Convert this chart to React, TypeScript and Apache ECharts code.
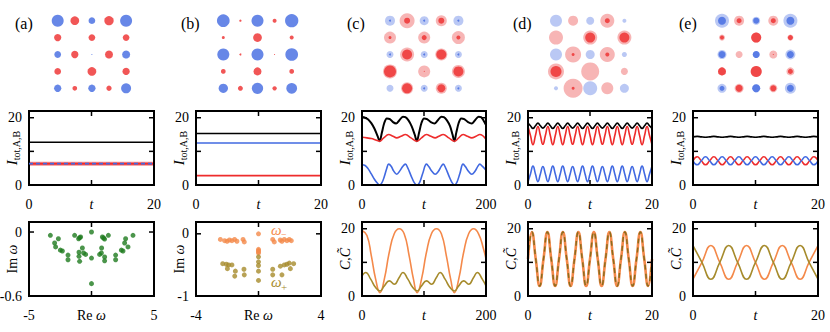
import React, { useEffect, useRef } from 'react';
import * as echarts from 'echarts';

const SERIF = '"Liberation Serif", "DejaVu Serif", serif';
const BLUE = '#4169E1';
const RED = '#EE2C2C';
const BLUE_L = '#A9BAF1';
const RED_L = '#F5A3A3';
const GREEN = '#1E7B1E';
const ORANGE = '#F4894A';
const OLIVE = '#A68B2C';

// ---- lattice (top row) ----
const SITE_ROW = [0, 0, 0, 0, 0, 1, 1, 1, 2, 2, 2, 2, 2, 3, 3, 3, 4, 4, 4, 4, 4];
const SITE_COL = [0, 1, 2, 3, 4, 0, 2, 4, 0, 1, 2, 3, 4, 0, 2, 4, 0, 1, 2, 3, 4];
const PANEL_LABELS = ['(a)', '(b)', '(c)', '(d)', '(e)'];

const SIZE_A = [12, 8.7, 6.7, 9.3, 12, 7.3, 6.7, 6.7, 6.7, 7.3, 1, 8, 8, 6.7, 8.7, 7.3, 7.3, 4.7, 7.3, 5.3, 10];
const SIZE_B = [12.7, 2.3, 12, 4, 13.3, 3, 8.7, 4, 12, 2, 12, 1, 12.7, 4.7, 8, 4.7, 9.3, 5, 11.3, 4.3, 10.7];
const OUTER_C = [10, 15, 9, 11, 10, 12, 12, 13, 7, 14, 7, 12, 7, 14, 12, 13, 7, 12, 7, 11, 7];
const INNER_C = [2, 6, 2, 6, 2, 3, 5, 4, 2, 10, 2, 10, 2, 12, 1, 10, 0, 10, 2, 8, 2];
const OUTER_D = [12, 10, 8, 14, 4, 14, 14, 14, 12, 16, 9, 15, 5, 16, 18, 7, 4, 19, 14, 12, 9];
const INNER_D = [0, 0, 0, 5, 0, 0, 10, 10, 0, 3, 0, 4, 0, 11, 0, 0, 0, 3, 0, 0, 0];
const OUTER_E = [14, 10, 8, 10, 14, 6, 10, 6, 9, 7, 7, 8, 10, 8, 11, 8, 9, 9, 8, 8, 11];
const INNER_E = [8, 5, 6, 5, 8, 4, 10, 5, 7, 0, 7, 1, 7, 8, 11, 5, 5, 7, 8, 6, 7];

// ---- middle row: intensities ----
const T_CONST = [0, 20];
const A_TOT = [12.7, 12.7];
const A_IA = [6.35, 6.35];
const A_IB = [6.35, 6.35];
const B_TOT = [15.3, 15.3];
const B_IA = [12.5, 12.5];
const B_IB = [2.8, 2.8];

const C_TOT: [number, number][] = [
  [0, 20.2], [5, 20.0], [10, 19.5], [15, 18.4], [20, 16.8], [25, 14.6], [28.5, 13.0], [32, 15.5], [36, 18.5], [40, 19.8],
  [45, 19.6], [50, 18.7], [55, 18.3], [60, 19.2], [66, 20.3], [70, 20.2], [75, 19.2], [80, 17.5], [85, 15.0], [88.5, 13.0],
  [92, 15.5], [96, 18.5], [100, 19.8], [105, 19.6], [111, 18.7], [117, 18.3], [122, 19.2], [128, 20.3], [132, 20.2],
  [137, 19.2], [142, 17.5], [146, 15.0], [149, 13.0], [152, 15.5], [156, 18.5], [160, 19.8], [165, 19.6], [171, 18.7],
  [177, 18.3], [182, 19.2], [188, 20.3], [192, 20.2], [196, 19.2], [200, 17.8],
];
const C_IA: [number, number][] = [
  [0, 6.0], [5, 5.8], [10, 4.8], [15, 3.3], [20, 1.7], [25, 0.5], [28.5, 0.0], [32, 0.6], [36, 2.5], [40, 5.0], [43, 6.2],
  [47, 5.6], [51, 4.2], [56, 3.2], [61, 4.2], [66, 5.6], [70, 6.2], [74, 5.0], [79, 2.8], [84, 0.8], [88.5, 0.0], [93, 0.8],
  [98, 3.5], [104, 6.2], [108, 5.4], [113, 4.0], [118, 3.2], [123, 4.0], [128, 5.6], [131, 6.2], [135, 5.0], [140, 2.8],
  [145, 0.8], [149, 0.0], [153, 0.8], [158, 3.5], [163, 6.2], [167, 5.4], [172, 4.0], [177, 3.2], [182, 4.0], [187, 5.6],
  [190, 6.2], [194, 5.6], [200, 4.4],
];
const C_IB: [number, number][] = [
  [0, 14.2], [8, 14.0], [15, 13.8], [22, 13.4], [28.5, 13.0], [35, 14.0], [43, 15.0], [50, 14.5], [56, 14.0], [63, 14.5],
  [70, 15.0], [79, 14.0], [88.5, 13.0], [96, 14.0], [104, 15.0], [111, 14.5], [118, 14.0], [124, 14.5], [131, 15.0],
  [140, 14.0], [149, 13.0], [156, 14.0], [163, 15.0], [170, 14.5], [177, 14.0], [184, 14.5], [190, 15.0], [200, 13.6],
];

const D_STEP = 0.4;
const D_IA = [1.0, 3.3, 5.6, 3.3, 1.0, 3.3, 5.5, 3.3, 1.0, 3.3, 5.6, 3.3, 1.0, 3.3, 5.6, 3.3, 1.0, 3.3, 5.5, 3.3, 1.0, 3.3, 5.6, 3.3, 1.0, 3.3, 5.6, 3.3, 1.0, 3.3, 5.5, 3.3, 1.0, 3.3, 5.6, 3.3, 1.0, 3.3, 5.6, 3.3, 1.0, 3.3, 5.5, 3.3, 1.0, 3.3, 5.6, 3.3, 1.0, 3.3, 5.6];
const D_IB = [17.4, 14.7, 12.0, 14.7, 17.4, 14.7, 12.1, 14.7, 17.4, 14.7, 12.0, 14.7, 17.4, 14.7, 12.0, 14.7, 17.4, 14.7, 12.1, 14.7, 17.4, 14.7, 12.0, 14.7, 17.4, 14.7, 12.0, 14.7, 17.4, 14.7, 12.1, 14.7, 17.4, 14.7, 12.0, 14.7, 17.4, 14.7, 12.0, 14.7, 17.4, 14.7, 12.1, 14.7, 17.4, 14.7, 12.0, 14.7, 17.4, 14.7, 12.0];
const D_TOT = [18.4, 17.6, 16.8, 17.6, 18.4, 17.6, 16.9, 17.6, 18.4, 17.6, 16.8, 17.6, 18.4, 17.6, 16.8, 17.6, 18.4, 17.6, 16.9, 17.6, 18.4, 17.6, 16.8, 17.6, 18.4, 17.6, 16.8, 17.6, 18.4, 17.6, 16.9, 17.6, 18.4, 17.6, 16.8, 17.6, 18.4, 17.6, 16.8, 17.6, 18.4, 17.6, 16.9, 17.6, 18.4, 17.6, 16.8, 17.6, 18.4, 17.6, 16.8];

const E_STEP = 20 / 30;
const E_TOT = [14.3, 14.45, 14.3, 14.2, 14.3, 14.45, 14.3, 14.2, 14.3, 14.45, 14.3, 14.2, 14.3, 14.45, 14.3, 14.2, 14.3, 14.45, 14.3, 14.2, 14.3, 14.45, 14.3, 14.2, 14.3, 14.45, 14.3, 14.2, 14.3, 14.45, 14.3];
const E_IA = [7.2, 6.0, 7.2, 8.4, 7.2, 6.0, 7.2, 8.4, 7.2, 6.0, 7.2, 8.4, 7.2, 6.0, 7.2, 8.4, 7.2, 6.0, 7.2, 8.4, 7.2, 6.0, 7.2, 8.4, 7.2, 6.0, 7.2, 8.4, 7.2, 6.0, 7.2];
const E_IB = [7.2, 8.4, 7.2, 6.0, 7.2, 8.4, 7.2, 6.0, 7.2, 8.4, 7.2, 6.0, 7.2, 8.4, 7.2, 6.0, 7.2, 8.4, 7.2, 6.0, 7.2, 8.4, 7.2, 6.0, 7.2, 8.4, 7.2, 6.0, 7.2, 8.4, 7.2];

// ---- bottom row ----
const A_OMEGA: [number, number][] = [
  [-3.29, -0.031], [-2.95, -0.103], [-2.87, -0.14], [-2.65, -0.063], [-2.49, -0.17], [-2.33, -0.178], [-1.88, -0.216],
  [-1.88, -0.26], [-1.35, -0.031], [-1.03, -0.063], [-0.95, -0.053], [-0.87, -0.047], [-0.73, -0.15], [-1.0, -0.19],
  [-1.0, -0.228], [-0.95, -0.275], [-0.63, -0.197], [-0.47, -0.21],
  [0, 0], [0, -0.244], [0, -0.484],
  [0.65, -0.21], [0.79, -0.197], [0.81, -0.15], [0.87, -0.047], [0.97, -0.056], [1.05, -0.066], [1.05, -0.234],
  [1.05, -0.27], [1.35, -0.031], [1.93, -0.216], [1.93, -0.26], [2.39, -0.17], [2.52, -0.178], [2.65, -0.103],
  [2.73, -0.063], [2.92, -0.14], [3.32, -0.031],
];
const B_OMEGA_MINUS: [number, number][] = [
  [-2.44, -0.09], [-2.17, -0.11], [-2.01, -0.12], [-1.86, -0.1], [-1.7, -0.11], [-1.53, -0.09], [-1.38, -0.12],
  [-0.99, -0.09], [-0.91, -0.13],
  [0, 0], [0, -0.25], [0, -0.27], [0, -0.29], [0, -0.31],
  [0.91, -0.09], [1.01, -0.13], [1.39, -0.1], [1.5, -0.12], [1.65, -0.09], [1.82, -0.11], [1.97, -0.09], [2.1, -0.11],
];
const B_OMEGA_PLUS: [number, number][] = [
  [-2.29, -0.48], [-2.06, -0.49], [-1.91, -0.5], [-1.7, -0.5], [-1.99, -0.56], [-1.48, -0.6], [-0.93, -0.57],
  [-0.91, -0.66], [-1.52, -0.68],
  [0, -0.37], [0, -0.45], [0, -0.51], [0, -0.6], [0, -0.75],
  [0.91, -0.57], [0.91, -0.66], [1.4, -0.52], [1.5, -0.66], [1.65, -0.5], [1.82, -0.49], [1.97, -0.47], [2.04, -0.56],
  [2.25, -0.48],
];

const C_C: [number, number][] = [
  [0, 19.5], [8, 18], [15, 12], [22, 5], [29, 1], [36, 5], [44, 13], [52, 18.5], [60, 20], [68, 18.5], [76, 12], [83, 5],
  [89, 1], [96, 5], [104, 13], [112, 18.5], [120, 20], [128, 18.5], [136, 12], [143, 5], [149, 1], [156, 5], [164, 13],
  [172, 18.5], [180, 20], [188, 18.5], [196, 14], [200, 11],
];
const C_CT: [number, number][] = [
  [0, 6], [6, 7], [14, 5], [22, 2.5], [29, 1.5], [36, 3], [44, 4.5], [52, 3.5], [60, 5.5], [66, 7], [74, 5], [82, 2.5],
  [89, 1.5], [96, 3], [104, 4.5], [112, 3.5], [120, 5.5], [126, 7], [134, 5], [142, 2.5], [149, 1.5], [156, 3], [164, 4.5],
  [172, 3.5], [180, 5.5], [186, 7], [194, 5], [200, 3],
];
const D_STEP2 = 0.625;
const D_C = [11, 19, 11, 3, 11, 19, 11, 3, 11, 19, 11, 3, 11, 19, 11, 3, 11, 19, 11, 3, 11, 19, 11, 3, 11, 19, 11, 3, 11, 19, 11, 3, 11];
const D_CT = [11, 19, 11, 3, 11, 19, 11, 3, 11, 19, 11, 3, 11, 19, 11, 3, 11, 19, 11, 3, 11, 19, 11, 3, 11, 19, 11, 3, 11, 19, 11, 3, 11];
const E_STEP2 = 20 / 14;
const E_C = [5, 10, 15, 10, 5, 10, 15, 10, 5, 10, 15, 10, 5, 10, 15];
const E_CT = [15, 10, 5, 10, 15, 10, 5, 10, 15, 10, 5, 10, 15, 10, 5];

// ---- layout ----
const COL_LEFT = [29, 196, 362, 528, 693];
const COL_W = [125, 125, 124, 124, 125];
const TOP_X0 = [57.7, 223.3, 390, 556, 722];
const LABEL_X = [15, 181, 347, 513, 679];
const TICK_PX = 5;

type Frame = { xi: number; yi: number; xs: any; ys: any; xName: string; yName: string; rect: number[] };

function ticksOf(s: any) {
  const out: number[] = [];
  for (let k = 0; k < 100; k++) {
    const v = Math.round((s.min + k * s.interval) * 1e6) / 1e6;
    if (v > s.max + 1e-9) break;
    if (v > s.min + 1e-9 && v < s.max - 1e-9) out.push(v);
  }
  return out;
}

function buildOption() {
  const grid: any[] = [];
  const xAxis: any[] = [];
  const yAxis: any[] = [];
  const series: any[] = [];
  const frameSeries: any[] = [];
  const graphic: any[] = [];
  const frames: Frame[] = [];

  const fmt = (labels: Record<string, string>) => (v: number) => {
    const k = String(Math.round(v * 1000) / 1000);
    return labels[k] ?? '';
  };

  const lab = { fontFamily: SERIF, fontSize: 14, color: '#000' };

  function framed(rect: number[], xs: any, ys: any, xName: string, yName: string) {
    const gi = grid.length;
    grid.push({ left: rect[0], top: rect[1], width: rect[2], height: rect[3], containLabel: false, outerBoundsMode: 'none' });
    const mkCommon = () => ({
      gridIndex: gi, type: 'value',
      splitLine: { show: false },
      axisLine: { show: false },
      axisTick: { show: false },
      nameMoveOverlap: false,
    });
    const xi = xAxis.length;
    xAxis.push({
      ...mkCommon(), position: 'bottom', min: xs.min, max: xs.max, interval: xs.interval,
      axisLabel: { ...lab, margin: 12, formatter: fmt(xs.labels), hideOverlap: false },
    });
    const yi = yAxis.length;
    yAxis.push({
      ...mkCommon(), position: 'left', min: ys.min, max: ys.max, interval: ys.interval,
      axisLabel: { ...lab, margin: 7, formatter: fmt(ys.labels), hideOverlap: false },
    });
    const f = { xi, yi, xs, ys, xName, yName, rect };
    frames.push(f);
    const xt = ticksOf(xs);
    const yt = ticksOf(ys);
    frameSeries.push({
      type: 'custom', xAxisIndex: xi, yAxisIndex: yi, silent: true, clip: false, z: 4,
      data: [[xs.min, ys.min, xs.max, ys.max]],
      encode: { x: [0, 2], y: [1, 3] },
      renderItem: (params: any, api: any) => {
        const p0 = api.coord([xs.min, ys.min]);
        const p1 = api.coord([xs.max, ys.max]);
        const L = p0[0];
        const B = p0[1];
        const R = p1[0];
        const T = p1[1];
        const st = { stroke: '#000', lineWidth: 1.5, fill: null };
        const children: any[] = [
          { type: 'rect', shape: { x: L, y: T, width: R - L, height: B - T }, style: { stroke: '#000', lineWidth: 2, fill: 'rgba(0,0,0,0)' } },
        ];
        for (const v of xt) {
          const px = api.coord([v, ys.min])[0];
          children.push({ type: 'line', shape: { x1: px, y1: B, x2: px, y2: B - TICK_PX }, style: st });
          children.push({ type: 'line', shape: { x1: px, y1: T, x2: px, y2: T + TICK_PX }, style: st });
        }
        for (const v of yt) {
          const py = api.coord([xs.min, v])[1];
          children.push({ type: 'line', shape: { x1: L, y1: py, x2: L + TICK_PX, y2: py }, style: st });
          children.push({ type: 'line', shape: { x1: R, y1: py, x2: R - TICK_PX, y2: py }, style: st });
        }
        return { type: 'group', children };
      },
    });
    return { xi, yi };
  }

  const lineSeries = (ax: any, data: any[], color: string, width: number, extra: any = {}) => ({
    type: 'line', xAxisIndex: ax.xi, yAxisIndex: ax.yi, data, showSymbol: false, symbol: 'none',
    lineStyle: { color, width, ...(extra.lineStyle || {}) }, smooth: extra.smooth ?? false, silent: true, z: extra.z ?? 2,
  });
  const pairs = (ts: number[], vs: number[]) => vs.map((v, i) => [ts[i], v]);
  const stepped = (step: number, vs: number[]) => vs.map((v, i) => [Math.min(20, i * step), v]);

  // top row lattices
  const OUTERS = [null, null, OUTER_C, OUTER_D, OUTER_E];
  const INNERS = [SIZE_A, SIZE_B, INNER_C, INNER_D, INNER_E];
  const PITCH = 17.1;
  for (let p = 0; p < 5; p++) {
    const gi = grid.length;
    grid.push({ left: TOP_X0[p] - PITCH / 2, top: 20.7 - 8.45, width: PITCH * 5, height: 84.5, containLabel: false, outerBoundsMode: 'none' });
    const xi = xAxis.length;
    xAxis.push({ gridIndex: gi, type: 'value', min: -0.5, max: 4.5, show: false });
    const yi = yAxis.length;
    yAxis.push({ gridIndex: gi, type: 'value', min: -0.5, max: 4.5, inverse: true, show: false });
    const mk = (sizes: number[], light: boolean) =>
      SITE_ROW.map((r, i) => {
        const isA = r % 2 === 0 && SITE_COL[i] % 2 === 0;
        return {
          value: [SITE_COL[i], r],
          symbolSize: sizes[i],
          itemStyle: { color: isA ? (light ? BLUE_L : BLUE) : light ? RED_L : RED },
        };
      }).filter((d) => d.symbolSize > 0);
    const outer = OUTERS[p];
    if (outer) {
      series.push({ type: 'scatter', xAxisIndex: xi, yAxisIndex: yi, symbol: 'circle', data: mk(outer, true), silent: true, z: 2 });
    }
    series.push({ type: 'scatter', xAxisIndex: xi, yAxisIndex: yi, symbol: 'circle', data: mk(INNERS[p], false), silent: true, z: 3 });
    graphic.push({
      type: 'text', x: LABEL_X[p], y: 23,
      style: { text: PANEL_LABELS[p], fontSize: 16, fontFamily: SERIF, fill: '#000', verticalAlign: 'middle', align: 'left' },
    });
  }

  // middle row
  const yI = { min: 0, max: 22, interval: 10, labels: { '0': '0', '20': '20' } };
  const xT20 = { min: 0, max: 20, interval: 10, labels: { '0': '0', '20': '20' } };
  const xT200 = { min: 0, max: 200, interval: 100, labels: { '0': '0', '200': '200' } };

  const mA = framed([COL_LEFT[0], 111, COL_W[0], 74], xT20, yI, 't', 'I');
  series.push(lineSeries(mA, pairs(T_CONST, A_TOT), '#000', 1.6));
  series.push(lineSeries(mA, pairs(T_CONST, A_IB), '#F59090', 4));
  series.push(lineSeries(mA, pairs(T_CONST, A_IB), RED, 2, { z: 3 }));
  series.push(lineSeries(mA, pairs(T_CONST, A_IA), BLUE, 1.8, { lineStyle: { type: [4, 3] }, z: 4 }));

  const mB = framed([COL_LEFT[1], 111, COL_W[1], 74], xT20, yI, 't', 'I');
  series.push(lineSeries(mB, pairs(T_CONST, B_TOT), '#000', 1.6));
  series.push(lineSeries(mB, pairs(T_CONST, B_IA), BLUE, 1.6));
  series.push(lineSeries(mB, pairs(T_CONST, B_IB), RED, 1.6));

  const mC = framed([COL_LEFT[2], 111, COL_W[2], 74], xT200, yI, 't', 'I');
  series.push(lineSeries(mC, C_TOT, '#000', 2, { smooth: 0.3 }));
  series.push(lineSeries(mC, C_IB, RED, 1.6, { smooth: 0.4 }));
  series.push(lineSeries(mC, C_IA, BLUE, 1.6, { smooth: 0.4 }));

  const mD = framed([COL_LEFT[3], 111, COL_W[3], 74], xT20, yI, 't', 'I');
  series.push(lineSeries(mD, stepped(D_STEP, D_TOT), '#000', 1.6, { smooth: 0.5 }));
  series.push(lineSeries(mD, stepped(D_STEP, D_IB), RED, 1.6, { smooth: 0.5 }));
  series.push(lineSeries(mD, stepped(D_STEP, D_IA), BLUE, 1.6, { smooth: 0.5 }));

  const mE = framed([COL_LEFT[4], 111, COL_W[4], 74], xT20, yI, 't', 'I');
  series.push(lineSeries(mE, stepped(E_STEP, E_TOT), '#000', 1.6, { smooth: 0.5 }));
  series.push(lineSeries(mE, stepped(E_STEP, E_IB), RED, 1.6, { smooth: 0.5 }));
  series.push(lineSeries(mE, stepped(E_STEP, E_IA), BLUE, 1.6, { smooth: 0.5 }));

  // bottom row
  const yC = { min: 0, max: 22, interval: 10, labels: { '0': '0', '20': '20' } };

  const bA = framed(
    [COL_LEFT[0], 222, COL_W[0], 74],
    { min: -5, max: 5, interval: 5, labels: { '-5': '-5', '5': '5' } },
    { min: -0.6, max: 0.094, interval: 0.6, labels: { '0': '0', '-0.6': '-0.6' } },
    'Re', 'Im',
  );
  series.push({ type: 'scatter', xAxisIndex: bA.xi, yAxisIndex: bA.yi, data: A_OMEGA, symbolSize: 5, itemStyle: { color: GREEN }, silent: true });

  const bB = framed(
    [COL_LEFT[1], 222, COL_W[1], 74],
    { min: -4, max: 4, interval: 4, labels: { '-4': '-4', '4': '4' } },
    { min: -1, max: 0.19, interval: 1, labels: { '0': '0', '-1': '-1' } },
    'Re', 'Im',
  );
  series.push({ type: 'scatter', xAxisIndex: bB.xi, yAxisIndex: bB.yi, data: B_OMEGA_MINUS, symbolSize: 5, itemStyle: { color: ORANGE }, silent: true });
  series.push({ type: 'scatter', xAxisIndex: bB.xi, yAxisIndex: bB.yi, data: B_OMEGA_PLUS, symbolSize: 5, itemStyle: { color: OLIVE }, silent: true });
  graphic.push({ type: 'text', x: 271, y: 230, style: { text: 'ω', fontSize: 15, fontStyle: 'italic', fontFamily: SERIF, fill: ORANGE, verticalAlign: 'middle' } });
  graphic.push({ type: 'text', x: 281, y: 234, style: { text: '−', fontSize: 10, fontFamily: SERIF, fill: ORANGE, verticalAlign: 'middle' } });
  graphic.push({ type: 'text', x: 271, y: 282, style: { text: 'ω', fontSize: 15, fontStyle: 'italic', fontFamily: SERIF, fill: OLIVE, verticalAlign: 'middle' } });
  graphic.push({ type: 'text', x: 281, y: 287, style: { text: '+', fontSize: 11, fontFamily: SERIF, fill: OLIVE, verticalAlign: 'middle' } });

  const bC = framed([COL_LEFT[2], 222, COL_W[2], 74], xT200, yC, 't', 'C');
  series.push(lineSeries(bC, C_C, ORANGE, 1.6, { smooth: 0.5 }));
  series.push(lineSeries(bC, C_CT, OLIVE, 1.6, { smooth: 0.5 }));

  const bD = framed([COL_LEFT[3], 222, COL_W[3], 74], xT20, yC, 't', 'C');
  series.push(lineSeries(bD, stepped(D_STEP2, D_C), ORANGE, 2.6, { smooth: 0.5 }));
  series.push(lineSeries(bD, stepped(D_STEP2, D_CT), '#8A6D1E', 1.5, { smooth: 0.5, lineStyle: { type: [5, 4] }, z: 3 }));

  const bE = framed([COL_LEFT[4], 222, COL_W[4], 74], xT20, yC, 't', 'C');
  series.push(lineSeries(bE, stepped(E_STEP2, E_C), ORANGE, 1.6, { smooth: 0.5 }));
  series.push(lineSeries(bE, stepped(E_STEP2, E_CT), OLIVE, 1.6, { smooth: 0.5 }));

  // axis names as text
  for (const f of frames) {
    const [l, t, w, h] = f.rect;
    const cx = l + w / 2;
    const xNameY = t + h + 19;
    if (f.xName === 't') {
      graphic.push({ type: 'text', x: cx, y: xNameY, style: { text: 't', fontSize: 14, fontStyle: 'italic', fontFamily: SERIF, fill: '#000', align: 'center', verticalAlign: 'middle' } });
    } else {
      graphic.push({
        type: 'text', x: cx, y: xNameY,
        style: {
          text: '{r|Re }{w|ω}', align: 'center', verticalAlign: 'middle',
          rich: { r: { fontSize: 14, fontFamily: SERIF, fill: '#000' }, w: { fontSize: 14, fontStyle: 'italic', fontFamily: SERIF, fill: '#000' } },
        },
      });
    }
    const ny = t + h / 2;
    let text = '';
    let rich: any = {};
    if (f.yName === 'I') {
      text = '{i|I}{s|tot,A,B}';
      rich = {
        i: { fontSize: 15, fontStyle: 'italic', fontFamily: SERIF, fill: '#000', lineHeight: 18 },
        s: { fontSize: 10, fontFamily: SERIF, fill: '#000', verticalAlign: 'bottom', lineHeight: 12 },
      };
    } else if (f.yName === 'Im') {
      text = '{r|Im }{w|ω}';
      rich = { r: { fontSize: 14, fontFamily: SERIF, fill: '#000' }, w: { fontSize: 14, fontStyle: 'italic', fontFamily: SERIF, fill: '#000' } };
    } else {
      text = '{c|C,C\u0303}';
      rich = { c: { fontSize: 14, fontStyle: 'italic', fontFamily: SERIF, fill: '#000' } };
    }
    graphic.push({
      type: 'text', x: l - 17, y: ny, rotation: Math.PI / 2,
      style: { text, rich, align: 'center', verticalAlign: 'middle' },
    });
  }

  return { animation: false, grid, xAxis, yAxis, series: [...series, ...frameSeries], graphic };
}

export default function App() {
  const ref = useRef<HTMLDivElement>(null);
  useEffect(() => {
    const chart = echarts.init(ref.current!, null, { renderer: 'svg' });
    chart.setOption(buildOption());
    return () => chart.dispose();
  }, []);
  return <div ref={ref} style={{ position: 'absolute', left: 0, top: 0, width: 830, height: 332, background: '#fff' }} />;
}
